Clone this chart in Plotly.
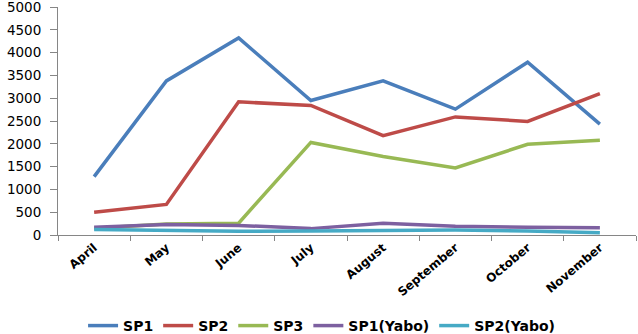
import plotly.graph_objects as go

months = ["April", "May", "June", "July", "August", "September", "October", "November"]
sp1 = [1280, 3380, 4320, 2950, 3380, 2760, 3790, 2430]
sp2 = [500, 670, 2920, 2840, 2180, 2590, 2490, 3100]
sp3 = [150, 240, 260, 2030, 1720, 1470, 1990, 2080]
sp1_yabo = [170, 230, 210, 140, 260, 190, 170, 160]
sp2_yabo = [120, 100, 80, 90, 100, 110, 90, 50]

series = [
    ("SP1", sp1, "#4A7EBB"),
    ("SP2", sp2, "#BE4B48"),
    ("SP3", sp3, "#98B954"),
    ("SP1(Yabo)", sp1_yabo, "#7D60A0"),
    ("SP2(Yabo)", sp2_yabo, "#46AAC5"),
]

fig = go.Figure()
for name, vals, color in series:
    fig.add_trace(go.Scatter(x=months, y=vals, name=name, mode="lines",
                             line=dict(color=color, width=3.5)))

fig.update_layout(
    width=638, height=334,
    margin=dict(l=58, r=2, t=7, b=99),
    plot_bgcolor="white", paper_bgcolor="white",
    font=dict(family="DejaVu Sans", color="black"),
    showlegend=True,
    legend=dict(orientation="h", xref="paper", x=0.456, xanchor="center",
                yref="container", y=0.024, yanchor="middle",
                font=dict(size=14, family="DejaVu Sans", weight="bold"),
                itemwidth=30, tracegroupgap=0),
)
fig.update_xaxes(
    type="category", range=[-0.5, 7.5], automargin=False,
    showline=True, linecolor="#868686", linewidth=1,
    ticks="outside", tickson="boundaries", ticklen=5, tickcolor="#868686",
    tickangle=-40, tickfont=dict(size=12, family="DejaVu Sans", weight="bold"),
    showgrid=False,
)
fig.update_yaxes(
    range=[0, 5000], dtick=500, automargin=False,
    showline=True, linecolor="#868686", linewidth=1,
    ticks="outside", ticklen=7, tickcolor="#868686",
    showgrid=False, zeroline=False, ticklabelstandoff=6,
    ticklabeloverflow="allow",
    tickfont=dict(size=13.5, family="DejaVu Sans"),
)
fig.write_html("out.html", config={"displayModeBar": False},
               post_script="document.body.style.margin='0';")
